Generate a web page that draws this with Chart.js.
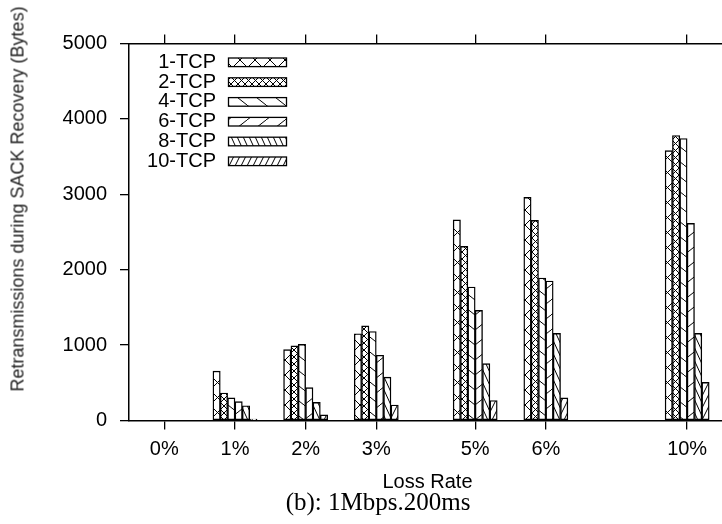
<!DOCTYPE html>
<html><head><meta charset="utf-8">
<script src="https://cdn.jsdelivr.net/npm/chart.js@4/dist/chart.umd.min.js"></script>
<style>
html,body{margin:0;padding:0;background:#fff;overflow:hidden;width:722px;height:524px;}
#wrap{position:relative;width:722px;height:524px;overflow:hidden;}
canvas{position:absolute;left:0;top:0;}
.ytitle{position:absolute;left:18px;top:199px;transform:translate(-50%,-50%) rotate(-90deg);white-space:nowrap;font:18px "Liberation Sans",Arial,sans-serif;color:#222;}
.caption{position:absolute;left:378px;top:502px;transform:translate(-50%,-50%);white-space:nowrap;font:25px "Liberation Serif","Times New Roman",serif;color:#000;}
</style></head><body>
<div id="wrap">
<canvas id="c" width="740" height="524" style="width:740px;height:524px"></canvas>
<div class="ytitle">Retransmissions during SACK Recovery (Bytes)</div>
<div class="caption">(b): 1Mbps.200ms</div>
</div>
<script>
// Categories (loss rates) and their x positions on the plot axis
const categories = ['0%', '1%', '2%', '3%', '5%', '6%', '10%'];
const positions  = [0, 1, 2, 3, 4.4, 5.4, 7.4];
const seriesNames = ['1-TCP', '2-TCP', '4-TCP', '6-TCP', '8-TCP', '10-TCP'];
// Series values (Bytes)
const tcp1  = [0, 655, 940, 1150, 2660, 2960, 3580];
const tcp2  = [0, 365, 990, 1255, 2310, 2655, 3780];
const tcp4  = [0, 300, 1010, 1180, 1770, 1890, 3740];
const tcp6  = [0, 250, 435, 865, 1460, 1850, 2615];
const tcp8  = [0, 195, 240, 575, 755, 1155, 1155];
const tcp10 = [0, 20, 75, 205, 265, 300, 505];
const yTicks = [0, 1000, 2000, 3000, 4000, 5000];

function hatch(w, h, dirs, lw) {
  const c = document.createElement('canvas');
  c.width = w; c.height = h;
  const g = c.getContext('2d');
  g.fillStyle = '#fff'; g.fillRect(0, 0, w, h);
  g.strokeStyle = '#000'; g.lineWidth = lw;
  g.beginPath();
  for (const d of dirs) {
    for (const k of [-1, 0, 1]) {
      if (d === '\\') { g.moveTo(k * w, 0); g.lineTo(k * w + w, h); }
      else { g.moveTo(k * w + w, 0); g.lineTo(k * w, h); }
    }
  }
  g.stroke();
  return g.createPattern(c, 'repeat');
}
const fills = [
  hatch(15, 15, ['\\', '/'], 1),
  hatch(7, 7, ['\\', '/'], 1),
  hatch(19, 15, ['\\'], 1),
  hatch(19, 15, ['/'], 1),
  hatch(6, 13, ['\\'], 1),
  hatch(6, 12, ['/'], 1)
];
const seriesValues = [tcp1, tcp2, tcp4, tcp6, tcp8, tcp10];

const FONT = '"Liberation Sans", Arial, sans-serif';
const keyPlugin = {
  id: 'gnuKey',
  afterDatasetsDraw(chart) {
    const ctx = chart.ctx;
    ctx.save();
    ctx.font = '20px ' + FONT;
    ctx.textAlign = 'right';
    ctx.textBaseline = 'middle';
    chart.data.datasets.forEach((ds, i) => {
      const y = 62.3 + i * 19.8;
      ctx.fillStyle = '#000';
      ctx.fillText(ds.label, 216, y);
      ctx.fillStyle = ds.backgroundColor;
      ctx.fillRect(228.5, y - 4.3, 58, 8.6);
      ctx.strokeStyle = '#000';
      ctx.lineWidth = 1.3;
      ctx.strokeRect(228.5, y - 4.3, 58, 8.6);
    });
    ctx.restore();
  }
};

const setTicks = s => { s.ticks = positions.map(v => ({ value: v })); };

new Chart(document.getElementById('c'), {
  type: 'bar',
  data: {
    datasets: seriesNames.map((name, i) => ({
      label: name,
      data: positions.map((x, j) => ({ x: x, y: seriesValues[i][j] })),
      backgroundColor: fills[i],
      borderColor: '#000',
      borderWidth: 1.4,
      borderSkipped: false,
      barThickness: 7.35
    }))
  },
  options: {
    responsive: false,
    animation: false,
    devicePixelRatio: 1,
    layout: { padding: { left: 0, right: 14, top: 34, bottom: 0 } },
    plugins: { legend: { display: false }, tooltip: { enabled: false } },
    scales: {
      x: {
        type: 'linear', position: 'bottom', min: -0.5, max: 7.95, offset: false,
        afterBuildTicks: setTicks,
        afterFit: s => { s.height = 103.5; },
        grid: { display: true, drawOnChartArea: false, drawTicks: true, tickLength: 9, color: '#000', lineWidth: 1.3, offset: false },
        border: { display: true, color: '#000', width: 1.5 },
        ticks: { autoSkip: false, maxRotation: 0, padding: 8, color: '#000', font: { family: FONT, size: 20 },
                 callback: (v, i) => categories[i] },
        title: { display: true, text: 'Loss Rate', color: '#000', font: { family: FONT, size: 20 }, padding: { top: 0, bottom: 30 } }
      },
      x2: {
        type: 'linear', position: 'top', min: -0.5, max: 7.95, offset: false,
        afterBuildTicks: setTicks,
        afterFit: s => { s.height = 9.5; },
        grid: { display: true, drawOnChartArea: false, drawTicks: true, tickLength: 9, color: '#000', lineWidth: 1.3, offset: false },
        border: { display: true, color: '#000', width: 1.5 },
        ticks: { display: true, autoSkip: false, maxRotation: 0, callback: () => '' }
      },
      y: {
        type: 'linear', position: 'left', min: 0, max: 5000,
        afterBuildTicks: s => { s.ticks = yTicks.map(v => ({ value: v })); },
        afterFit: s => { s.width = 129; },
        grid: { display: true, drawOnChartArea: false, drawTicks: true, tickLength: 9, color: '#000', lineWidth: 1.3 },
        border: { display: true, color: '#000', width: 1.5 },
        ticks: { padding: 13, color: '#000', font: { family: FONT, size: 20 }, callback: v => String(v) }
      }
    }
  },
  plugins: [keyPlugin]
});
</script>
</body></html>
